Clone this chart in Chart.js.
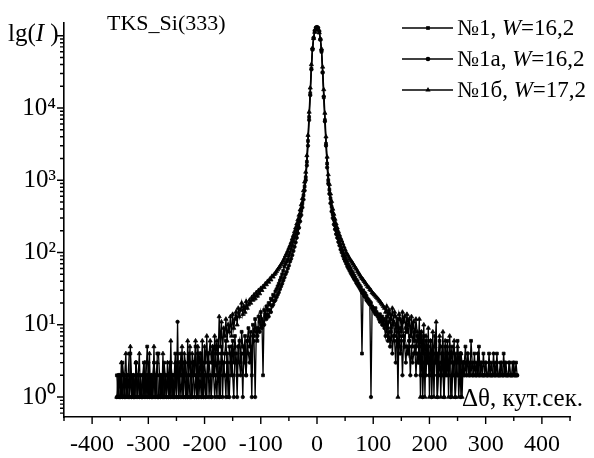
<!DOCTYPE html>
<html><head><meta charset="utf-8">
<script src="https://cdn.jsdelivr.net/npm/chart.js@4/dist/chart.umd.min.js"></script>
<style>html,body{margin:0;padding:0;background:#fff;}canvas{display:block;}</style>
</head><body>
<canvas id="c" width="594" height="458"></canvas>
<script>
// Δθ grid (arc sec), step 2
const angle = [
-356,-354,-352,-350,-348,-346,-344,-342,-340,-338,-336,-334,-332,-330,-328,-326,-324,-322,-320,-318,
-316,-314,-312,-310,-308,-306,-304,-302,-300,-298,-296,-294,-292,-290,-288,-286,-284,-282,-280,-278,
-276,-274,-272,-270,-268,-266,-264,-262,-260,-258,-256,-254,-252,-250,-248,-246,-244,-242,-240,-238,
-236,-234,-232,-230,-228,-226,-224,-222,-220,-218,-216,-214,-212,-210,-208,-206,-204,-202,-200,-198,
-196,-194,-192,-190,-188,-186,-184,-182,-180,-178,-176,-174,-172,-170,-168,-166,-164,-162,-160,-158,
-156,-154,-152,-150,-148,-146,-144,-142,-140,-138,-136,-134,-132,-130,-128,-126,-124,-122,-120,-118,
-116,-114,-112,-110,-108,-106,-104,-102,-100,-98,-96,-94,-92,-90,-88,-86,-84,-82,-80,-78,
-76,-74,-72,-70,-68,-66,-64,-62,-60,-58,-56,-54,-52,-50,-48,-46,-44,-42,-40,-38,
-36,-34,-32,-30,-28,-26,-24,-22,-20,-18,-16,-14,-12,-10,-8,-6,-4,-2,0,2,
4,6,8,10,12,14,16,18,20,22,24,26,28,30,32,34,36,38,40,42,
44,46,48,50,52,54,56,58,60,62,64,66,68,70,72,74,76,78,80,82,
84,86,88,90,92,94,96,98,100,102,104,106,108,110,112,114,116,118,120,122,
124,126,128,130,132,134,136,138,140,142,144,146,148,150,152,154,156,158,160,162,
164,166,168,170,172,174,176,178,180,182,184,186,188,190,192,194,196,198,200,202,
204,206,208,210,212,214,216,218,220,222,224,226,228,230,232,234,236,238,240,242,
244,246,248,250,252,254,256,258,260,262,264,266,268,270,272,274,276,278,280,282,
284,286,288,290,292,294,296,298,300,302,304,306,308,310,312,314,316,318,320,322,
324,326,328,330,332,334,336,338,340,342,344,346,348,350,352,354,356];

// №1, W=16,2
const s1 = [
2,1,2,2,1,3,2,1,2,1, 2,4,4,2,1,2,1,3,2,2, 1,2,1,2,3,1,2,5,2,1, 2,1,2,3,2,1,4,4,2,1, 2,1,3,2,1,2,2,1,3,2, 1,2,4,2,
3,1,2,4,2,1,3,2,2,1, 4,3,2,1,2,3,5,2,1,3, 2,4,1,2,3,2,1,4,3,2, 1,3,5,2,4,
2,4,3,1,5,3,2,4,6,3, 1,5,4,2,6,3,7,4,2,5, 6,3,8,5,4,7,2,6,9,5,
8,2,10,7,12,9,6,13,11,15, 12,2,16,14,18,16,20,19,23,22, 26,25,29,31,34,37,41,45,50,56,
64,70,75,80,90,100,112,125,142,160, 180,205,235,270,320,380,480,620,820,1100,
1800,3500,7500,16000,35000,65000,92000,115000,127000,130000,
126000,112000,88000,60000,31000,14000,6800,3200,1700,1000,
740,560,430,340,285,240,205,180,158,140, 127,115,105,95,88,80,74,68,64,
60,55,52,48,45,42,40,37,35,33, 4,30,28,27,25,23,22,21,20,18, 17,16,17,15,14,13,14,12,13,11,
12,10,13,9,11,12,8,10,11,7, 10,9,12,6,9,8,11,7,5,9, 8,10,6,7,9,5,8,6,4,7,
6,3,8,5,2,7,4,6,3,5, 2,6,4,3,5,7,3,4,2,6, 5,3,4,2,5,3,6,2,4,3, 5,2,3,4,2,6,3,2,4,3, 2,
3,5,2,4,3,2,6,3,2,4, 2,3,2,5,2,3,2,4,2,3, 2,2,4,2,3,2,2,3,2,4, 2,2,3,2,2,4,2,3,2,2, 3,2,2,3,2,2,3,2];

// №1а, W=16,2
const s1a = [
1,2,1,1,2,1,2,1,1,2, 1,1,2,1,2,1,1,3,1,2, 1,2,1,1,2,1,2,1,3,1, 2,1,1,2,1,2,1,1,2,1, 2,1,1,2,1,2,1,3,1,2, 1,1,2,1,
11,1,2,1,2,1,3,1,2,1, 2,1,1,3,2,1,2,1,4,1, 2,1,3,1,2,1,2,4,1,2, 1,3,2,1,2,
1,3,1,2,4,1,3,2,1,4, 2,1,3,5,2,1,4,3,1,5, 3,2,4,1,5,3,2,6,4,3,
5,1,7,6,1,8,7,9,8,10, 9,11,10,13,12,14,13,16,15,18, 19,21,22,24,26,28,31,34,37,41,
45,50,54,60,66,75,82,92,105,120, 138,160,185,220,270,330,420,540,720,1000,
1600,3000,6800,15000,34000,64000,94000,118000,130000,132000,
129000,116000,90000,62000,31000,14500,6500,3000,1500,900,
650,480,370,300,245,210,180,160,140,125, 110,100,90,82,76,70,64,60,56,
52,49,46,43,41,38,36,34,32,30, 28,27,25,24,22,21,20,19,1,17, 16,15,14,14,13,12,11,12,10,10,
9,7,10,6,8,5,9,4,7,6, 3,8,5,6,4,7,2,6,5,3, 5,4,6,2,5,3,4,5,2,4,
3,5,2,4,1,3,4,2,5,3, 2,4,1,3,2,4,3,1,2,3, 2,4,2,1,3,2,3,2,4,1, 2,3,2,1,3,2,2,4,1,2, 3,
2,3,2,4,2,2,3,2,2,3, 2,2,4,2,2,3,2,2,2,3, 2,2,3,2,2,2,4,2,2,3, 2,2,2,3,2,2,3,2,2,2, 3,2,2,2,3,2,2,2];

// №1б, W=17,2 (scan ends at +260)
const s1b = [
1,1,2,1,3,1,1,2,4,1, 2,1,5,1,1,2,1,3,1,2, 4,1,1,2,1,3,1,2,1,4, 1,2,1,5,1,2,3,1,1,2, 1,4,1,2,1,3,2,1,6,1, 2,1,3,1,
4,1,3,2,5,1,4,3,1,6, 2,5,1,4,3,2,6,1,5,3, 4,2,6,1,5,3,7,2,4,6, 3,5,2,7,4,
6,3,13,5,11,4,9,7,12,6, 10,8,13,7,14,9,12,15,10,17, 13,16,20,14,18,15,21,17,19,22,
20,24,22,26,23,28,25,30,27,32, 30,34,33,37,36,40,39,43,42,47, 46,50,52,55,58,61,64,68,72,77,
83,90,97,105,115,125,138,155,172,195, 220,250,285,330,390,460,560,720,950,1300,
2200,4200,8800,19000,40000,68000,92000,112000,122000,125000,
122000,110000,90000,66000,37000,18000,8500,4000,2100,1200,
880,650,510,400,340,290,250,220,195,175, 158,145,132,120,110,100,94,88,82,
78,74,70,66,62,59,55,52,49,46, 44,42,40,38,36,34,33,31,30,28, 27,26,25,24,23,22,21,20,19,18,
17,15,18,13,16,14,12,17,11,15, 13,10,1,14,12,9,15,11,13,8, 14,10,12,7,13,9,11,6,12,8,
5,12,1,8,4,10,1,7,3,9, 1,6,2,8,1,5,11,1,4,7, 1,3,8,1,6,2,5,1,7,3, 1,4,6,1,3,5,1,2,4,1, 3];

const seriesNames = ['№1', '№1а', '№1б'];
const seriesW = ['16,2', '16,2', '17,2'];
const seriesStyles = ['rect', 'circle', 'triangle'];
const xTicks = [-400,-300,-200,-100,0,100,200,300,400];
const yTicks = [1,10,100,1000,10000];
const supDigits = ['⁰','¹','²','³','⁴','⁵'];

const FONT = "'Liberation Serif', 'Times New Roman', serif";
Chart.defaults.font.family = FONT;
Chart.defaults.color = '#000';

function pts(arr){ return arr.map((v,i)=>({x: angle[i], y: v})); }
const allSeries = [s1, s1a, s1b];
const radii = [2.0, 1.7, 2.4];

function drawMarker(ctx, style, x, y, r){
  ctx.beginPath();
  if(style==='rect'){ const s=r*Math.SQRT1_2; ctx.rect(x-s,y-s,2*s,2*s); }
  else if(style==='circle'){ ctx.arc(x,y,r,0,Math.PI*2); }
  else { ctx.moveTo(x, y-r); ctx.lineTo(x+r*0.866, y+r*0.5); ctx.lineTo(x-r*0.866, y+r*0.5); ctx.closePath(); }
  ctx.fill();
}

function drawRich(ctx, parts, x, y){
  let cx = x;
  for(const p of parts){
    ctx.font = (p.it ? 'italic ' : '') + p.size + 'px ' + FONT;
    ctx.fillText(p.t, cx, y);
    cx += ctx.measureText(p.t).width;
  }
  return cx;
}

const decor = {
  id: 'decor',
  afterDraw(chart){
    const ctx = chart.ctx, xs = chart.scales.x, ys = chart.scales.y, a = chart.chartArea;
    ctx.save();
    ctx.strokeStyle = '#000'; ctx.lineWidth = 1.4;
    ctx.beginPath();
    for(let v=-450; v<=450; v+=50){
      const px = xs.getPixelForValue(v);
      const len = (v % 100 === 0) ? 7 : 4;
      ctx.moveTo(px, a.bottom); ctx.lineTo(px, a.bottom+len);
    }
    for(let d=-1; d<=5; d++){
      for(let m=1; m<=9; m++){
        const v = m*Math.pow(10,d);
        if(v < ys.min || v > ys.max) continue;
        const py = ys.getPixelForValue(v);
        const len = (m===1) ? 7 : 4;
        ctx.moveTo(a.left-len, py); ctx.lineTo(a.left, py);
      }
    }
    ctx.stroke();

    ctx.fillStyle = '#000';
    ctx.textBaseline = 'middle';
    ctx.textAlign = 'left';
    drawRich(ctx, [{t:'lg(', size:25},{t:'I', size:25, it:true},{t:' )', size:25}], 8, 34);
    drawRich(ctx, [{t:'TKS_Si(333)', size:22}], 107, 24);
    drawRich(ctx, [{t:'Δθ, кут.сек.', size:25}], 462, 399);

    const rows = [28, 59, 90];
    for(let i=0;i<3;i++){
      const y = rows[i];
      ctx.lineWidth = 1.3;
      ctx.beginPath(); ctx.moveTo(402, y); ctx.lineTo(453, y); ctx.stroke();
      drawMarker(ctx, seriesStyles[i], 428, y, radii[i]+0.6);
      drawRich(ctx, [{t: seriesNames[i] + ', ', size:23},{t:'W', size:23, it:true},{t:'=' + seriesW[i], size:23}], 457, y+1);
    }
    ctx.restore();
  }
};

new Chart(document.getElementById('c'), {
  type: 'scatter',
  data: {
    datasets: allSeries.map((s,i)=>({
      label: seriesNames[i] + ', W=' + seriesW[i],
      data: pts(s),
      showLine: true,
      borderColor: '#000',
      backgroundColor: '#000',
      borderWidth: 1.3,
      pointStyle: seriesStyles[i],
      pointRadius: radii[i],
      pointBorderWidth: 0.8,
      pointBorderColor: '#000',
      tension: 0
    }))
  },
  options: {
    responsive: false,
    devicePixelRatio: 1,
    animation: false,
    layout: { padding: { top: 23, right: 24, left: 0, bottom: 0 } },
    plugins: { legend: { display: false }, tooltip: { enabled: false } },
    scales: {
      x: {
        type: 'linear', min: -450, max: 450,
        afterBuildTicks: (s) => { s.ticks = xTicks.map(v => ({value: v})); },
        afterFit: (s) => { s.height = 41; },
        grid: { display: false, drawTicks: false },
        border: { display: true, color: '#000', width: 1.6 },
        ticks: { autoSkip: false, maxRotation: 0, padding: 13, font: { size: 24, family: FONT }, color: '#000',
                 callback: (v) => String(v) }
      },
      y: {
        type: 'logarithmic', min: 0.53, max: 150000,
        afterBuildTicks: (s) => { s.ticks = yTicks.map(v => ({value: v})); },
        afterFit: (s) => { s.width = 64; },
        grid: { display: false, drawTicks: false },
        border: { display: true, color: '#000', width: 1.6 },
        ticks: { autoSkip: false, padding: 8, font: { size: 25, family: FONT }, color: '#000',
                 callback: (v) => '10' + supDigits[Math.round(Math.log10(v))] }
      }
    }
  },
  plugins: [decor]
});
</script>
</body></html>
